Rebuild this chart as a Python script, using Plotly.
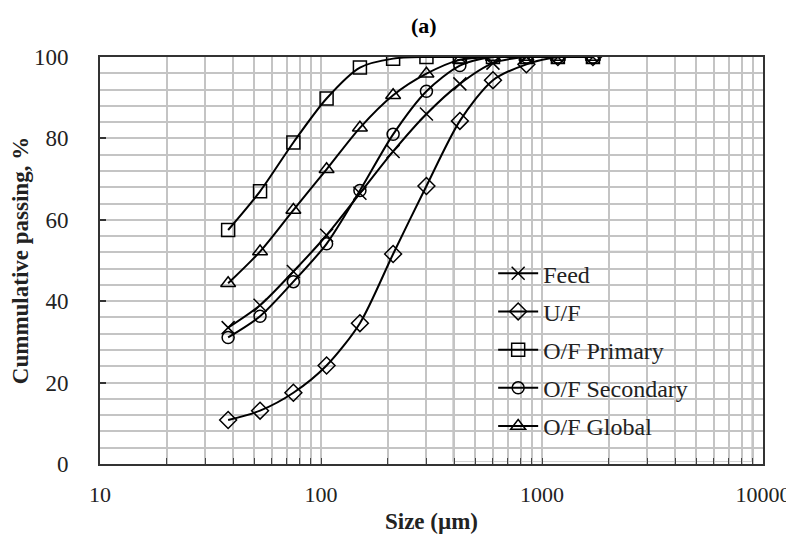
import plotly.graph_objects as go

sizes = [38, 53, 75, 106, 150, 212, 300, 425, 600, 850, 1180, 1700]
feed = [33.5, 39.0, 47.3, 56.2, 66.5, 76.8, 86.0, 93.4, 98.5, 100, 100, 100]
uf = [10.8, 13.1, 17.5, 24.2, 34.6, 51.6, 68.3, 84.3, 94.3, 98.2, 100, 100]
of_primary = [57.5, 67.0, 79.0, 89.8, 97.4, 99.6, 100, 100, 100, 100, 100, 100]
of_secondary = [31.1, 36.3, 44.8, 54.1, 67.2, 81.0, 91.6, 97.9, 100, 100, 100, 100]
of_global = [44.4, 52.2, 62.4, 72.4, 82.6, 90.6, 95.9, 99.3, 100, 100, 100, 100]

series = [
    ("Feed", feed, "x-thin-open"),
    ("U/F", uf, "diamond-open"),
    ("O/F Primary", of_primary, "square-open"),
    ("O/F Secondary", of_secondary, "circle-open"),
    ("O/F Global", of_global, "triangle-up-open"),
]

FONT = "Liberation Serif, Times New Roman, serif"

fig = go.Figure()
for i, (name, vals, sym) in enumerate(series):
    fig.add_trace(go.Scatter(
        x=sizes, y=vals, name=name, mode="lines+markers",
        line=dict(color="black", width=2, shape="spline", smoothing=0.8),
        marker=dict(symbol=sym, size=13 if sym != "circle-open" else 12,
                    color="black", line=dict(color="black", width=1.5)),
        legendgroup=f"g{i}",
    ))

# x ticks: every 1..9 per decade, labels only on decades
xt_vals = []
xt_text = []
for d in [10, 100, 1000]:
    for m in range(1, 10):
        xt_vals.append(d * m)
        xt_text.append(str(d) if m == 1 else "")
xt_vals.append(10000)
xt_text.append("10000")

fig.update_layout(
    width=786, height=531,
    margin=dict(l=92, r=31, t=49, b=75),
    paper_bgcolor="white", plot_bgcolor="white",
    font=dict(family=FONT, size=23, color="black"),
    title=dict(text="<b>(a)</b>", x=0.529, xanchor="center", y=0.968, yanchor="middle",
               font=dict(family=FONT, size=22, color="black")),
    showlegend=True,
    legend=dict(
        x=0.593, xanchor="left", y=0.523, yanchor="top",
        bgcolor="rgba(0,0,0,0)", borderwidth=0,
        font=dict(family=FONT, size=24, color="#222"),
        tracegroupgap=4, itemwidth=40,
    ),
    shapes=[dict(
        type="rect", xref="paper", yref="paper",
        x0=0.532, x1=0.983, y0=0.006, y1=0.523,
        fillcolor="white", line=dict(color="#d0d0d0", width=1),
        layer="between",
    )],
)

fig.update_xaxes(
    type="log", range=[1, 4], automargin=False,
    tickmode="array", tickvals=xt_vals, ticktext=xt_text,
    ticks="inside", ticklen=6, tickcolor="#444", tickwidth=1,
    showgrid=True, gridcolor="#c4c4c4", gridwidth=1.5,
    showline=True, linecolor="#333", linewidth=2, mirror=True,
    ticklabelstandoff=10,
    title=dict(text="<b>Size (µm)</b>", font=dict(family=FONT, size=23, color="#222"), standoff=6),
    tickfont=dict(family=FONT, size=22, color="#222"),
    zeroline=False,
)
fig.update_yaxes(
    range=[0, 100], dtick=20, tick0=0, automargin=False,
    ticks="inside", ticklen=6, tickcolor="#333", tickwidth=1.5,
    showgrid=True, gridcolor="#c4c4c4", gridwidth=1.5,
    minor=dict(dtick=4, tick0=0, showgrid=True, gridcolor="#c4c4c4", gridwidth=1.5, ticks=""),
    showline=True, linecolor="#333", linewidth=2, mirror=True,
    ticklabelstandoff=25,
    title=dict(text="<b>Cummulative passing, %</b>", font=dict(family=FONT, size=23, color="#222"), standoff=3),
    tickfont=dict(family=FONT, size=23, color="#222"),
    zeroline=False,
)

fig.write_html("out.html")
